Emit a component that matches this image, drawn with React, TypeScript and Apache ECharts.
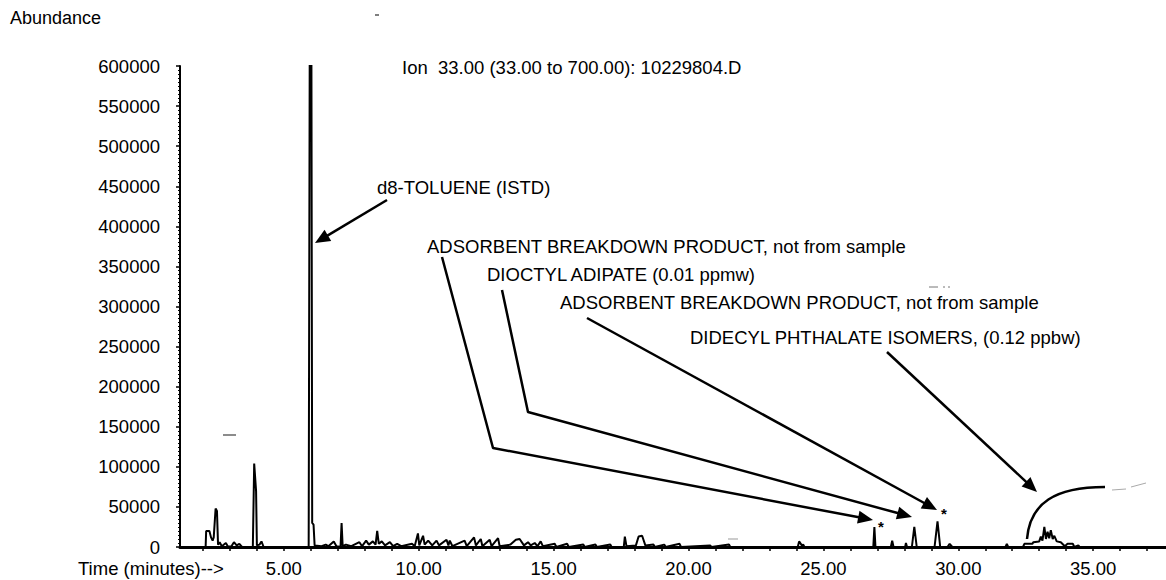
import React, { useEffect, useRef } from "react";
import * as echarts from "echarts";

// ---- data ----
const timeMin = [
  1.9, 2.1, 2.12, 2.24, 2.3, 2.36, 2.4, 2.47, 2.52, 2.56, 2.62, 2.7, 2.85, 2.92, 3.05, 3.15, 3.25, 3.35, 3.45,
  3.85, 3.9, 3.97, 4.0, 4.1, 4.17, 4.25,
  5.92, 5.96, 6.02, 6.05, 6.1, 6.14, 6.4, 6.55, 6.65, 6.85, 6.95, 7.1, 7.14, 7.18, 7.3, 7.5, 7.8, 7.9,
  8.05, 8.15, 8.3, 8.4, 8.46, 8.52, 8.63, 8.75, 8.93, 9.05, 9.2, 9.35, 9.75, 9.85, 9.97, 10.02,
  10.16, 10.22, 10.35, 10.5, 10.66, 10.75, 11.03, 11.1, 11.15, 11.25, 11.7, 11.78, 12.05, 12.12,
  12.3, 12.36, 12.63, 12.7, 12.94, 13.0, 13.4, 13.6, 13.74, 13.9, 14.05, 14.15, 14.3, 14.4, 14.52, 14.6,
  15.04, 15.1, 15.5, 15.56, 16.1, 16.15, 16.55, 16.6, 17.1, 17.15, 17.6, 17.64, 17.7, 18.05, 18.15,
  18.28, 18.4, 18.7, 18.75, 19.1, 19.15, 19.67, 19.72, 20.8, 20.85, 21.5, 21.55,
  24.05, 24.1, 24.2, 24.25, 24.3, 26.85, 26.89, 26.93, 27.5, 27.55, 27.6, 28.03, 28.06, 28.1,
  28.28, 28.37, 28.46, 29.12, 29.23, 29.33, 29.6, 29.68, 29.78, 31.75, 31.8, 31.85,
  32.4, 32.45, 32.75, 32.78, 33.0, 33.06, 33.12, 33.19, 33.25, 33.31, 33.37, 33.43, 33.5, 33.56,
  33.65, 33.8, 33.95, 34.05, 34.25, 34.3, 34.45, 34.5, 37.7,
];
const abundance = [
  0, 0, 20000, 20000, 12000, 8000, 12000, 48000, 45000, 3000, 6000, 1000, 5000, 1000, 500, 6000, 2000, 4000, 0,
  0, 104000, 70000, 2000, 3000, 7000, 0,
  0, 640000, 640000, 30000, 28000, 2000, 1000, 3000, 1000, 7000, 1000, 0, 30000, 1000, 3000, 1000, 6000, 1000,
  8000, 3000, 7000, 3000, 20000, 4000, 7000, 2000, 6000, 1000, 4000, 1000, 4000, 1000, 17000, 2000,
  14000, 3000, 8000, 2000, 8000, 2000, 9000, 2000, 8000, 1000, 8000, 1000, 12000, 2000,
  10000, 1000, 9000, 1000, 11000, 1000, 3000, 9000, 10000, 2000, 6000, 2000, 5000, 1000, 7000, 1000,
  4000, 0, 4000, 0, 3000, 0, 3000, 0, 3000, 0, 0, 13000, 1000, 2000, 13000,
  14000, 2000, 3000, 0, 3000, 0, 4000, 0, 2000, 0, 3000, 0,
  0, 7000, 2000, 3000, 0, 0, 25000, 0, 0, 8000, 0, 0, 5000, 0,
  0, 25000, 0, 0, 32000, 0, 0, 4000, 0, 0, 4000, 0,
  0, 4000, 4000, 6000, 7000, 13000, 8000, 25000, 10000, 19000, 11000, 21000, 10000, 14000,
  7000, 6000, 1000, 4000, 4000, 0, 2000, 0, 0,
];
const xTickMinutes = [2, 3, 4, 5, 6, 7, 8, 9, 10, 11, 12, 13, 14, 15, 16, 17, 18, 19, 20, 21, 22, 23, 24, 25, 26, 27, 28, 29, 30, 31, 32, 33, 34, 35, 36, 37];
const xLabelMinutes = [5, 10, 15, 20, 25, 30, 35];
const xMin = 1.15;
const xMax = 37.7;
const yMin = 0;
const yMax = 600000;
const yStep = 50000;

const titleText = "Ion  33.00 (33.00 to 700.00): 10229804.D";
const yName = "Abundance";
const xName = "Time (minutes)-->";
const annotations = [
  { text: "d8-TOLUENE (ISTD)", x: 377, y: 187 },
  { text: "ADSORBENT BREAKDOWN PRODUCT, not from sample", x: 427, y: 246 },
  { text: "DIOCTYL ADIPATE (0.01 ppmw)", x: 487, y: 274 },
  { text: "ADSORBENT BREAKDOWN PRODUCT, not from sample", x: 560, y: 302 },
  { text: "DIDECYL PHTHALATE ISOMERS, (0.12 ppbw)", x: 690, y: 337 },
];
// arrow paths: list of points, last one is the tip
const arrows: [number, number][][] = [
  [[387, 200], [315, 243]],
  [[442, 257], [493, 448], [873, 520]],
  [[502, 290], [528, 412], [912, 517]],
  [[587, 318], [937, 510]],
  [[887, 352], [1037, 492]],
];

const FONT = '"Liberation Sans", Arial, Helvetica, sans-serif';
const FS = 18.5;

function arrowHead(tip: number[], from: number[], len = 15, half = 6.5) {
  const dx = tip[0] - from[0];
  const dy = tip[1] - from[1];
  const L = Math.hypot(dx, dy);
  const ux = dx / L;
  const uy = dy / L;
  const bx = tip[0] - ux * len;
  const by = tip[1] - uy * len;
  return {
    poly: [
      [tip[0], tip[1]],
      [bx - uy * half, by + ux * half],
      [bx + uy * half, by - ux * half],
    ],
    base: [bx + ux * 2, by + uy * 2],
  };
}

export default function App() {
  const ref = useRef<HTMLDivElement>(null);
  useEffect(() => {
    if (!ref.current) return;
    const chart = echarts.init(ref.current, null, { renderer: "svg" });

    const graphics: any[] = [];
    graphics.push({
      type: "text", x: 10, y: 18,
      style: { text: yName, fill: "#000", font: `${FS - 0.5}px ${FONT}`, verticalAlign: "middle" },
    });
    graphics.push({
      type: "text", x: 402, y: 67,
      style: { text: titleText, fill: "#000", font: `${FS}px ${FONT}`, verticalAlign: "middle" },
    });
    graphics.push({
      type: "text", x: 78, y: 568,
      style: { text: xName, fill: "#000", font: `${FS}px ${FONT}`, verticalAlign: "middle" },
    });
    annotations.forEach((a) => {
      graphics.push({
        type: "text", x: a.x, y: a.y,
        style: { text: a.text, fill: "#000", font: `${FS}px ${FONT}`, verticalAlign: "middle" },
      });
    });
    arrows.forEach((pts) => {
      const tip = pts[pts.length - 1];
      const prev = pts[pts.length - 2];
      const h = arrowHead(tip, prev);
      const linePts = pts.slice(0, -1).concat([h.base as [number, number]]);
      graphics.push({
        type: "polyline",
        shape: { points: linePts },
        style: { stroke: "#000", lineWidth: 2.5, fill: null, lineJoin: "round" },
      });
      graphics.push({ type: "polygon", shape: { points: h.poly }, style: { fill: "#000" } });
    });
    // arc over the phthalate hump
    graphics.push({
      type: "bezierCurve",
      shape: { x1: 1027, y1: 539, cpx1: 1030, cpy1: 503, cpx2: 1055, cpy2: 487, x2: 1105, y2: 487 },
      style: { stroke: "#000", lineWidth: 2.5, fill: null },
    });
    graphics.push({ type: "line", shape: { x1: 1112, y1: 490, x2: 1126, y2: 489 }, style: { stroke: "#aaa", lineWidth: 1 } });
    graphics.push({ type: "line", shape: { x1: 1131, y1: 487, x2: 1146, y2: 483 }, style: { stroke: "#aaa", lineWidth: 1 } });
    // asterisks
    graphics.push({ type: "text", x: 878, y: 526, style: { text: "*", fill: "#000", font: `bold 15px ${FONT}`, verticalAlign: "middle" } });
    graphics.push({ type: "text", x: 941, y: 513, style: { text: "*", fill: "#000", font: `bold 15px ${FONT}`, verticalAlign: "middle" } });
    // scan specks
    graphics.push({ type: "line", shape: { x1: 375, y1: 15, x2: 379, y2: 15 }, style: { stroke: "#555", lineWidth: 1.5 } });
    graphics.push({ type: "line", shape: { x1: 223, y1: 435, x2: 236, y2: 435 }, style: { stroke: "#666", lineWidth: 1.5 } });
    graphics.push({ type: "line", shape: { x1: 929, y1: 287, x2: 938, y2: 287 }, style: { stroke: "#777", lineWidth: 1 } });
    graphics.push({ type: "line", shape: { x1: 943, y1: 287, x2: 945, y2: 287 }, style: { stroke: "#777", lineWidth: 1 } });
    graphics.push({ type: "line", shape: { x1: 948, y1: 287, x2: 950, y2: 287 }, style: { stroke: "#777", lineWidth: 1 } });
    graphics.push({ type: "line", shape: { x1: 728, y1: 539, x2: 738, y2: 539 }, style: { stroke: "#999", lineWidth: 1 } });

    chart.setOption({
      animation: false,
      backgroundColor: "#fff",
      grid: { left: 180, right: 0, top: 66, bottom: 33, containLabel: false, outerBoundsMode: "none" },
      xAxis: {
        type: "value",
        min: xMin,
        max: xMax,
        axisLine: { show: true, onZero: false, lineStyle: { color: "#000", width: 3 } },
        axisTick: { show: true, customValues: xTickMinutes, length: 4, lineStyle: { color: "#000", width: 1.5 } },
        axisLabel: {
          show: true,
          customValues: xLabelMinutes,
          formatter: (v: number) => v.toFixed(2),
          color: "#000",
          fontSize: FS,
          fontFamily: FONT,
          margin: 12,
        },
        splitLine: { show: false },
      },
      yAxis: {
        type: "value",
        min: yMin,
        max: yMax,
        interval: yStep,
        axisLine: { show: true, lineStyle: { color: "#000", width: 2 } },
        axisTick: { show: true, length: 4, lineStyle: { color: "#000", width: 1.5 } },
        minorTick: { show: true, splitNumber: 10, length: 2, lineStyle: { color: "#000", width: 1 } },
        axisLabel: {
          color: "#000",
          fontSize: FS,
          fontFamily: FONT,
          margin: 20,
          formatter: (v: number) => String(Math.round(v)),
        },
        splitLine: { show: false },
      },
      series: [
        {
          type: "line",
          data: timeMin.map((t, i) => [t, abundance[i]]),
          showSymbol: false,
          symbol: "none",
          clip: true,
          lineStyle: { color: "#000", width: 2 },
          z: 3,
        },
      ],
      graphic: graphics,
    });
    return () => chart.dispose();
  }, []);
  return (
    <div
      ref={ref}
      style={{ position: "fixed", left: 0, top: 0, width: 1166, height: 580, background: "#fff" }}
    />
  );
}
